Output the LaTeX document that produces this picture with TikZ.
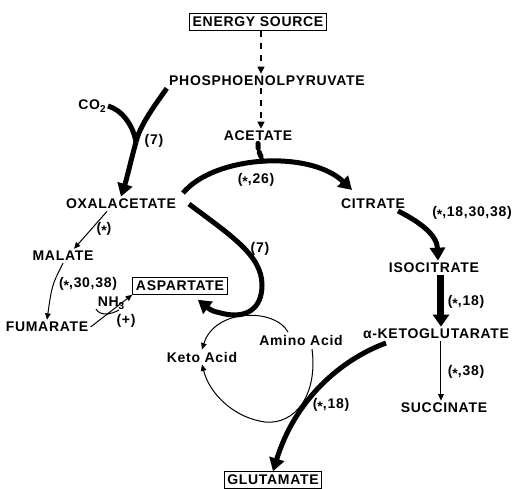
\documentclass[tikz,border=0pt]{standalone}
\usepackage{fontspec}
\setmainfont[LetterSpace = 5]{Liberation Sans}
\usetikzlibrary{arrows.meta}

\newcommand{\starm}{\raisebox{-0.35ex}{*}}
\newcommand{\mfont}{\fontsize{7}{8}\selectfont\bfseries}

\tikzset{
    metab/.style = {font = \mfont, inner sep = 1pt},
    boxed/.style = {metab, draw, line width = 0.6pt, inner sep = 1.6pt},
    bigflux/.style = {line width = 2.5pt, -{Triangle[length = 6.5pt, width = 7.5pt]}},
    smallflux/.style = {line width = 0.5pt, -{Triangle[length = 3.2pt, width = 2.8pt]}}
}

\begin{document}
\begin{tikzpicture}[x = 0.5pt, y = -0.5pt]
        \useasboundingbox[fill = white] (0, 0) rectangle (516, 489);
        \draw
            (258, 22) node[boxed](energy){ENERGY SOURCE}
            (267, 81) node[metab](pep){PHOSPHOENOLPYRUVATE}
            (92, 106) node[metab](co2){CO\raisebox{-0.4ex}{\fontsize{5}{6}\selectfont 2}}
            (258, 136) node[metab](acet){ACETATE}
            (121, 204) node[metab](oxa){OXALACETATE}
            (373, 204) node[metab](cit){CITRATE}
            (434, 268) node[metab](iso){ISOCITRATE}
            (436, 334) node[metab](akg){α-KETOGLUTARATE}
            (444, 408) node[metab](succ){SUCCINATE}
            (63, 256) node[metab](mal){MALATE}
            (47, 327) node[metab](fum){FUMARATE}
            (180, 286) node[boxed](asp){ASPARTATE}
            (202, 357) node[metab](keto){Keto Acid}
            (301, 340) node[metab](amino){Amino Acid}
            (273, 480) node[boxed](glu){GLUTAMATE}
        ;

        % enzyme labels
        \draw
            (154, 141) node[metab](l7a){(7)}
            (256, 180) node[metab](l26){(\starm,26)}
            (472, 213) node[metab](l18a){(\starm,18,30,38)}
            (104, 229) node[metab](lst){(\starm)}
            (88, 284) node[metab](l3038){(\starm,30,38)}
            (111, 303) node[metab](nh3){NH\raisebox{-0.4ex}{\fontsize{5}{6}\selectfont 3}}
            (126, 321) node[metab](plus){(+)}
            (260, 249) node[metab](l7b){(7)}
            (466, 302) node[metab](l18b){(\starm,18)}
            (466, 372) node[metab](l38){(\starm,38)}
            (331, 405) node[metab](l18c){(\starm,18)}
        ;

        \draw[dashed, line width = 0.6pt, -{Triangle[length = 3.5pt, width = 3.5pt]}]
            ([xshift = 1.5pt]energy.south) -- ([xshift = 1.5pt]energy.south |- pep.north)
        ;
        \draw[dashed, line width = 0.6pt, -{Triangle[length = 3.5pt, width = 3.5pt]}]
            ([xshift = -3pt]pep.south) -- ([xshift = -3pt]pep.south |- acet.north)
        ;

        \coordinate (join) at (263, 161);
        \coordinate (jn) at (136, 142);
        \draw[bigflux]
            (183, 193) .. controls (215, 155) and (310, 150) .. (352, 190)
        ;
        \draw[line width = 2.5pt, dotted, line cap = round]
            (acet.south) .. controls (258, 150) .. (join)
        ;
        \draw[bigflux]
            (398, 211) .. controls (420, 222) and (437, 235) .. ([xshift = 2pt]iso.north)
        ;
        \draw[line width = 3.5pt, -{Triangle[length = 6pt, width = 8pt]}]
            ([xshift = 3.5pt]iso.south) -- ([xshift = 2.5pt]akg.north)
        ;
        \draw[smallflux]
            ([xshift = 2.5pt]akg.south) -- ([xshift = 2.5pt]akg.south |- succ.north)
        ;
        \draw[bigflux]
            (386, 343) .. controls (340, 360) and (295, 400) .. (glu.north)
        ;

        \draw[line width = 2.5pt]
            (pep.south west) .. controls (155, 105) and (140, 125) .. (jn)
            (co2.east) .. controls (122, 110) and (133, 125) .. (jn)
        ;
        \draw[bigflux]
            (jn) .. controls (131, 160) and (127, 178) .. (oxa.north)
        ;
        \draw[bigflux]
            (189, 204) .. controls (230, 235) and (262, 255) .. (262, 285)
            .. controls (262, 310) and (245, 318) .. (225, 314)
            .. controls (212, 311) .. ([shift = {(-15pt, -2.5pt)}]asp.south east)
        ;

        \draw[smallflux]
            ([xshift = -7pt]oxa.south) -- ([xshift = 5.5pt]mal.north)
        ;
        \draw[smallflux]
            (mal.south) .. controls (52, 285) .. (fum.north)
        ;
        \draw[smallflux]
            (fum.east) -- (asp.south west)
        ;
        \draw[line width = 0.5pt]
            (96, 309) .. controls (100, 316) and (110, 315) .. (119, 310)
        ;

        \draw[smallflux]
            (288, 332) .. controls (275, 308) and (215, 308) .. (keto.north)
        ;
        \draw[smallflux]
            (312, 349) .. controls (318, 395) and (295, 425) .. (265, 422)
            .. controls (235, 418) and (210, 395) .. (keto.south)
        ;
    \end{tikzpicture}
\end{document}
